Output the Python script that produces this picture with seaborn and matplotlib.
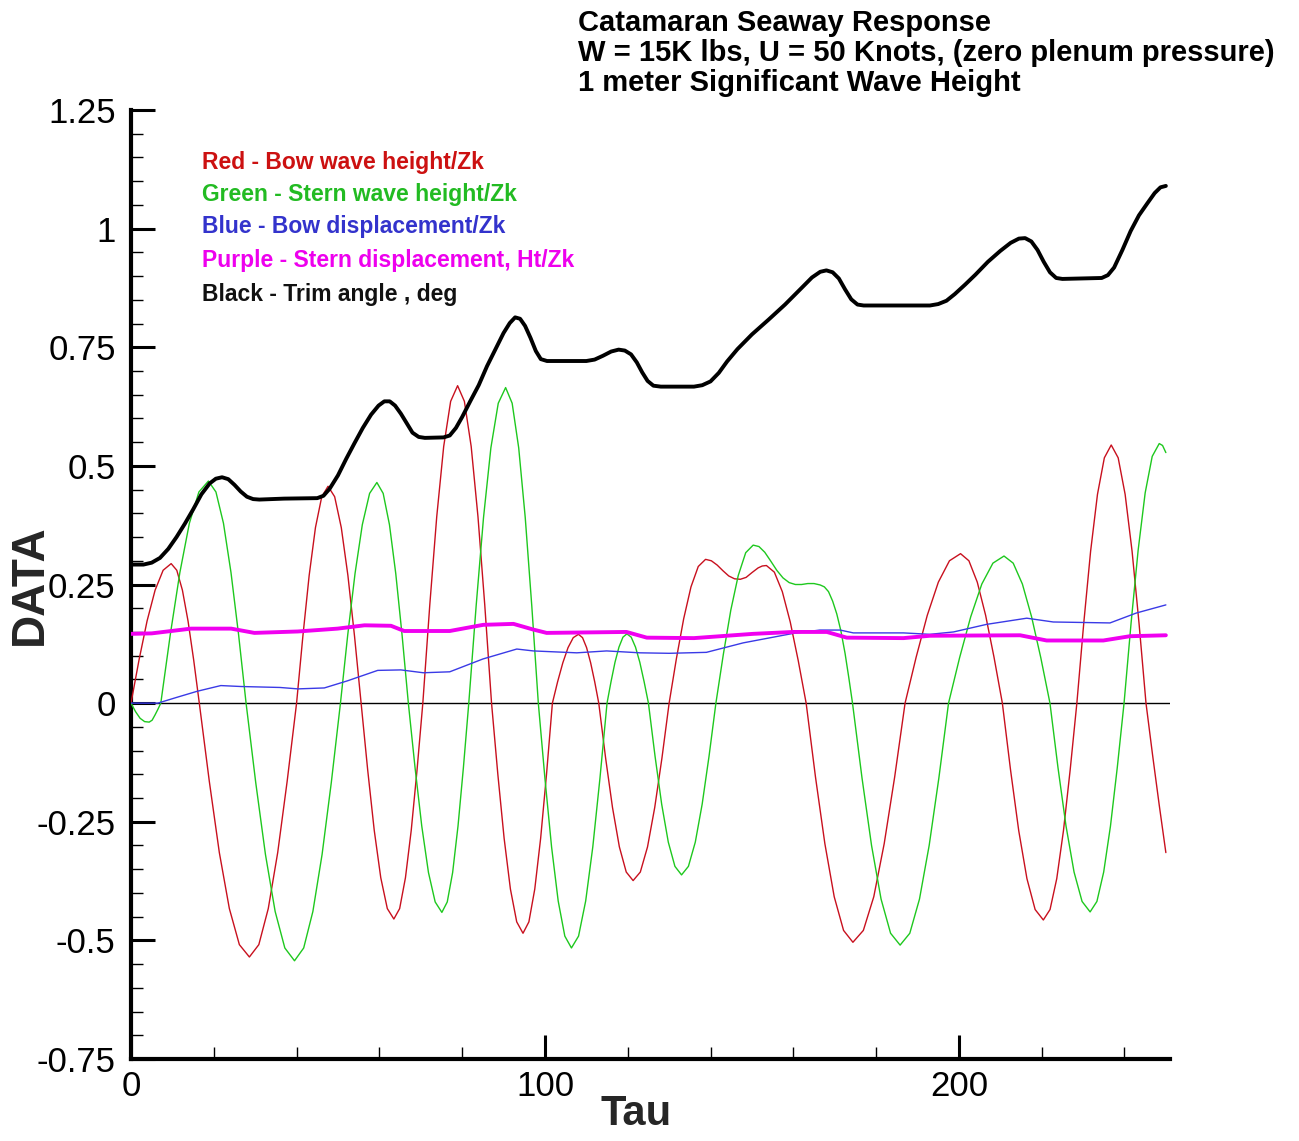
import matplotlib
matplotlib.use("Agg")
import matplotlib.pyplot as plt
from matplotlib.ticker import MultipleLocator, FixedLocator, FixedFormatter
import seaborn as sns
import pandas as pd

# ---------------- data ----------------
red_x = [0, 1.94, 3.88, 5.82, 7.76, 9.7, 11.06, 12.42, 13.78, 15.14, 16.5,
         18.92, 21.34, 23.76, 26.18, 28.6, 30.88, 33.16, 35.44, 37.72, 40,
         41.52, 43.04, 44.56, 46.08, 47.6, 49.2, 50.8, 52.4, 54, 55.6,
         57.18, 58.76, 60.34, 61.92, 63.5, 64.9, 66.3, 67.7, 69.1, 70.5,
         72.18, 73.86, 75.54, 77.22, 78.9, 80.54, 82.18, 83.82, 85.46, 87.1,
         88.62, 90.14, 91.66, 93.18, 94.7, 96.12, 97.54, 98.96, 100.38, 101.8,
         103.06, 104.32, 105.58, 106.84, 108.1, 109.08, 110.06, 111.04, 112.02, 113,
         114.66, 116.32, 117.98, 119.64, 121.3, 123.04, 124.78, 126.52, 128.26, 130,
         131.76, 133.52, 135.28, 137.04, 138.8, 140.2, 141.6, 143, 144.4, 145.8, 147.2,
         148.6, 150, 151.5, 152.5, 153.5, 155.42, 157.34, 159.26, 161.18, 163.1,
         165.36, 167.62, 169.88, 172.14, 174.4, 176.92, 179.44, 181.96, 184.48, 187,
         189.68, 192.36, 195.04, 197.72, 200.4, 202.42, 204.44, 206.46, 208.48, 210.5,
         212.48, 214.46, 216.44, 218.42, 220.4, 222.02, 223.64, 225.26, 226.88, 228.5,
         230.16, 231.82, 233.48, 235.14, 236.8, 238.48, 240.16, 241.84, 243.52, 245.2,
         246.8, 248.4, 250]
red_y = [0, 0.091, 0.173, 0.238, 0.280, 0.294, 0.280, 0.238, 0.173, 0.091, 0,
         -0.165, -0.315, -0.433, -0.509, -0.535, -0.509, -0.433, -0.315, -0.165, 0,
         0.141, 0.269, 0.370, 0.435, 0.457, 0.435, 0.370, 0.269, 0.141, 0,
         -0.141, -0.268, -0.368, -0.433, -0.455, -0.433, -0.368, -0.268, -0.141, 0,
         0.207, 0.393, 0.541, 0.636, 0.669, 0.636, 0.541, 0.393, 0.207, 0,
         -0.150, -0.285, -0.392, -0.461, -0.485, -0.461, -0.392, -0.285, -0.150, 0,
         0.045, 0.085, 0.117, 0.138, 0.145, 0.138, 0.117, 0.085, 0.045, 0,
         -0.116, -0.220, -0.303, -0.356, -0.374, -0.356, -0.303, -0.220, -0.116, 0,
         0.094, 0.178, 0.245, 0.288, 0.303, 0.300, 0.291, 0.279, 0.268, 0.262, 0.261,
         0.265, 0.275, 0.285, 0.289, 0.290, 0.276, 0.235, 0.171, 0.090, 0,
         -0.156, -0.296, -0.408, -0.479, -0.504, -0.479, -0.408, -0.296, -0.156, 0,
         0.097, 0.185, 0.255, 0.300, 0.315, 0.300, 0.255, 0.185, 0.097, 0,
         -0.141, -0.269, -0.370, -0.435, -0.457, -0.435, -0.370, -0.269, -0.141, 0,
         0.168, 0.320, 0.440, 0.517, 0.544, 0.517, 0.440, 0.320, 0.168, 0,
         -0.11, -0.215, -0.315]

green_x = [0, 1.1, 2.2, 3.3, 4.4, 5.1, 5.8, 6.5, 7.2,
           9.5, 11.8, 14.1, 16.4, 18.7, 20.52, 22.34, 24.16, 25.98, 27.8,
           30.14, 32.48, 34.82, 37.16, 39.5, 41.72, 43.94, 46.16, 48.38, 50.6,
           52.36, 54.12, 55.88, 57.64, 59.4, 60.92, 62.44, 63.96, 65.48, 67,
           68.62, 70.24, 71.86, 73.48, 75.1, 76.4, 77.7, 79, 80.3, 81.6,
           83.38, 85.16, 86.94, 88.72, 90.5, 92.08, 93.66, 95.24, 96.82, 98.4,
           100, 101.6, 103.2, 104.8, 106.4, 108.12, 109.84, 111.56, 113.28, 115,
           115.96, 116.92, 117.88, 118.84, 119.8, 120.84, 121.88, 122.92, 123.96, 125,
           126.6, 128.2, 129.8, 131.4, 133, 134.66, 136.32, 137.98, 139.64, 141.3,
           143.1, 144.9, 146.7, 148.5, 150.3, 151.7, 153.1, 154.5, 156, 157.5, 159,
           160.5, 162, 163.5, 165, 166.5, 167.5, 168.5, 169.5, 170.5, 171.5, 172.5,
           173.4, 174.3,
           176.6, 178.9, 181.2, 183.5, 185.8, 188.14, 190.48, 192.82, 195.16, 197.5,
           200.18, 202.86, 205.54, 208.22, 210.9, 213.12, 215.34, 217.56, 219.78, 222,
           223.94, 225.88, 227.82, 229.76, 231.7, 233.34, 234.98, 236.62, 238.26, 239.9,
           241.6, 243.3, 245, 246.7, 248.4, 249.2, 250]
green_y = [0, -0.018, -0.032, -0.039, -0.04, -0.036, -0.025, -0.013, 0,
           0.145, 0.275, 0.379, 0.445, 0.468, 0.445, 0.379, 0.275, 0.145, 0,
           -0.168, -0.319, -0.439, -0.516, -0.543, -0.516, -0.439, -0.319, -0.168, 0,
           0.144, 0.273, 0.376, 0.442, 0.465, 0.442, 0.376, 0.273, 0.144, 0,
           -0.136, -0.259, -0.357, -0.419, -0.441, -0.419, -0.357, -0.259, -0.136, 0,
           0.205, 0.391, 0.538, 0.632, 0.665, 0.632, 0.538, 0.391, 0.205, 0,
           -0.159, -0.303, -0.417, -0.491, -0.516, -0.491, -0.417, -0.303, -0.159, 0,
           0.045, 0.086, 0.118, 0.139, 0.146, 0.139, 0.118, 0.086, 0.045, 0,
           -0.112, -0.213, -0.293, -0.344, -0.362, -0.344, -0.293, -0.213, -0.112, 0,
           0.103, 0.196, 0.269, 0.317, 0.333, 0.330, 0.318, 0.300, 0.280, 0.264, 0.254,
           0.250, 0.250, 0.252, 0.252, 0.249, 0.245, 0.235, 0.215, 0.188, 0.152, 0.105,
           0.054, 0,
           -0.158, -0.300, -0.413, -0.485, -0.51, -0.485, -0.413, -0.300, -0.158, 0,
           0.096, 0.182, 0.251, 0.295, 0.31, 0.295, 0.251, 0.182, 0.096, 0,
           -0.136, -0.259, -0.356, -0.418, -0.44, -0.418, -0.356, -0.259, -0.136, 0,
           0.169, 0.322, 0.443, 0.520, 0.547, 0.543, 0.528]

blue_x = [0, 6.5, 11, 16, 21.7, 26.6, 36, 40.3, 46.7, 52.3, 59.6, 65.2, 70.6, 77, 85, 93.2,
          97.2, 107.7, 114.9, 123, 130, 139, 147.9, 160, 166.4, 171.3, 174.5, 186.6, 193,
          198.7, 206.7, 216.4, 222.8, 236.5, 242.9, 250]
blue_y = [0, 0, 0.012, 0.025, 0.037, 0.035, 0.033, 0.03, 0.032, 0.047, 0.069, 0.07, 0.064,
          0.066, 0.093, 0.114, 0.11, 0.106, 0.11, 0.106, 0.105, 0.107, 0.127, 0.147, 0.154,
          0.154, 0.148, 0.148, 0.145, 0.15, 0.166, 0.179, 0.171, 0.169, 0.19, 0.207]

purple_x = [0, 5, 14.5, 24.2, 29.8, 40.3, 49.9, 56.4, 62.8, 66, 77, 85.1, 92.4, 97.2, 100.4,
            119.7, 124.6, 136, 150.3, 160, 168.1, 172.9, 186.6, 193, 214.8, 221.2, 234.9,
            241.3, 250]
purple_y = [0.146, 0.147, 0.157, 0.157, 0.148, 0.151, 0.157, 0.164, 0.163, 0.152, 0.152,
            0.165, 0.167, 0.155, 0.148, 0.15, 0.138, 0.137, 0.146, 0.15, 0.15, 0.138, 0.137,
            0.142, 0.143, 0.132, 0.132, 0.141, 0.143]

black_x = [0, 3, 5, 7, 9, 11, 13, 15, 17, 19, 20.5, 22, 23.5, 25, 26.5, 28, 29.5, 31, 37, 45,
           46.5, 48, 50, 52, 54, 56, 58, 59.8, 61.2, 62.5, 63.8, 65.2, 66.6, 68, 69.5, 71,
           75.5, 77, 78.5, 80, 82, 84, 86, 88, 90, 91.5, 92.8, 94, 95.2, 96.5, 97.8, 99,
           100.5, 110, 112, 114, 116, 117.8, 119.3, 120.8, 122.2, 123.5, 124.8, 126.2, 128,
           136, 138, 140, 142, 144, 146.5, 150, 154, 158, 162, 164.5, 166.5, 168, 169.5,
           171, 172.5, 174, 175.5, 177, 193, 195, 197, 199, 201.5, 204, 207, 210, 212.5,
           214.5, 216, 217.5, 219, 220.5, 222, 223.5, 225, 234.5, 236, 237.5, 239.5, 241.5,
           243.5, 245.5, 247.3, 248.7, 250]
black_y = [0.292, 0.292, 0.296, 0.306, 0.325, 0.350, 0.378, 0.408, 0.44, 0.463, 0.473, 0.476,
           0.472, 0.46, 0.446, 0.435, 0.43, 0.429, 0.431, 0.432,
           0.437, 0.452, 0.48, 0.515, 0.548, 0.58, 0.608, 0.627, 0.636, 0.636, 0.627, 0.61,
           0.59, 0.57, 0.561, 0.559,
           0.56, 0.564, 0.58, 0.603, 0.637, 0.67, 0.71, 0.745, 0.78, 0.801, 0.813, 0.81,
           0.795, 0.77, 0.742, 0.725,
           0.721, 0.721, 0.724, 0.732, 0.741, 0.745, 0.743, 0.735, 0.718, 0.697, 0.679,
           0.669, 0.667,
           0.667, 0.670, 0.678, 0.696, 0.72, 0.746, 0.777, 0.808, 0.84, 0.875, 0.897, 0.909,
           0.912, 0.908,
           0.895, 0.872, 0.851, 0.84, 0.838, 0.838, 0.841, 0.848, 0.862, 0.882, 0.903, 0.93,
           0.953, 0.97,
           0.979, 0.98, 0.973, 0.955, 0.93, 0.908, 0.896, 0.894, 0.896, 0.902, 0.918, 0.955,
           0.995,
           1.028, 1.053, 1.075, 1.087, 1.09]

y_ticks = [-0.75, -0.5, -0.25, 0, 0.25, 0.5, 0.75, 1, 1.25]
y_tick_labels = ["-0.75", "-0.5", "-0.25", "0", "0.25", "0.5", "0.75", "1", "1.25"]
x_ticks = [0, 100, 200]
x_tick_labels = ["0", "100", "200"]

title_lines = ["Catamaran Seaway Response",
               "W = 15K lbs, U = 50 Knots, (zero plenum pressure)",
               "1 meter Significant Wave Height"]
note_lines = ["Red - Bow wave height/Zk",
              "Green - Stern wave height/Zk",
              "Blue - Bow displacement/Zk",
              "Purple - Stern displacement, Ht/Zk",
              "Black - Trim angle , deg"]

# ---------------- styling ----------------
sns.set_theme(style="white")
plt.rcParams["font.family"] = ["Liberation Sans", "DejaVu Sans"]
plt.rcParams["axes.unicode_minus"] = False

C_RED = "#c8101e"
C_GREEN = "#1ec81e"
C_BLUE = "#3a3ae6"
C_PURPLE = "#f000f0"
C_BLACK = "#000000"
note_colors = ["#cc1111", "#22bb22", "#3333cc", "#ee00ee", "#111111"]

W, H = 1299, 1141
fig = plt.figure(figsize=(W / 100, H / 100), dpi=100)
ax_left, ax_right, ax_bottom, ax_top = 131, 1170, 1059, 110
ax = fig.add_axes([ax_left / W, 1 - ax_bottom / H, (ax_right - ax_left) / W,
                   (ax_bottom - ax_top) / H])

series = [
    (red_x, red_y, C_RED, 1.0),
    (green_x, green_y, C_GREEN, 1.0),
    (blue_x, blue_y, C_BLUE, 1.0),
    (purple_x, purple_y, C_PURPLE, 2.8),
    (black_x, black_y, C_BLACK, 2.8),
]
ax.axhline(0, color="black", lw=1.0, zorder=1)
for xs, ys, col, lw in series:
    df = pd.DataFrame({"Tau": xs, "DATA": ys})
    sns.lineplot(data=df, x="Tau", y="DATA", ax=ax, color=col, lw=lw,
                 legend=False, estimator=None, zorder=3)

ax.set_xlim(0, 251)
ax.set_ylim(-0.75, 1.25)

for s in ["top", "right"]:
    ax.spines[s].set_visible(False)
for s in ["left", "bottom"]:
    ax.spines[s].set_linewidth(3.0)
    ax.spines[s].set_color("black")

ax.yaxis.set_major_locator(FixedLocator(y_ticks))
ax.yaxis.set_major_formatter(FixedFormatter(y_tick_labels))
ax.yaxis.set_minor_locator(MultipleLocator(0.05))
ax.xaxis.set_major_locator(FixedLocator(x_ticks))
ax.xaxis.set_major_formatter(FixedFormatter(x_tick_labels))
ax.xaxis.set_minor_locator(MultipleLocator(20))

ax.tick_params(axis="both", which="major", direction="in", length=17, width=2.2,
               color="black", labelsize=25, labelcolor="black")
ax.tick_params(axis="both", which="minor", direction="in", length=8.5, width=1.0,
               color="black")
ax.tick_params(axis="x", which="both", bottom=True, top=False)
ax.tick_params(axis="y", which="both", left=True, right=False)
ax.tick_params(axis="y", which="major", pad=11)
ax.tick_params(axis="x", which="major", pad=8)

ax.set_xlabel("Tau", fontsize=30, fontweight="bold")
ax.set_ylabel("DATA", fontsize=33, fontweight="bold")
ax.xaxis.set_label_coords((636 - ax_left) / (ax_right - ax_left),
                          -(1094 - ax_bottom) / (ax_bottom - ax_top))
ax.yaxis.set_label_coords(-(ax_left - 52) / (ax_right - ax_left), 0.5)
ax.grid(False)

for i, line in enumerate(title_lines):
    fig.text(578 / W, 1 - (23 + 30 * i) / H, line, fontsize=21, fontweight="bold",
             ha="left", va="center", color="black")

note_y = [162, 194, 226, 260, 294]
for line, yy, col in zip(note_lines, note_y, note_colors):
    fig.text(202 / W, 1 - yy / H, line, fontsize=16.5, fontweight="bold",
             ha="left", va="center", color=col)

fig.savefig("out.png", dpi=100, facecolor="white")
